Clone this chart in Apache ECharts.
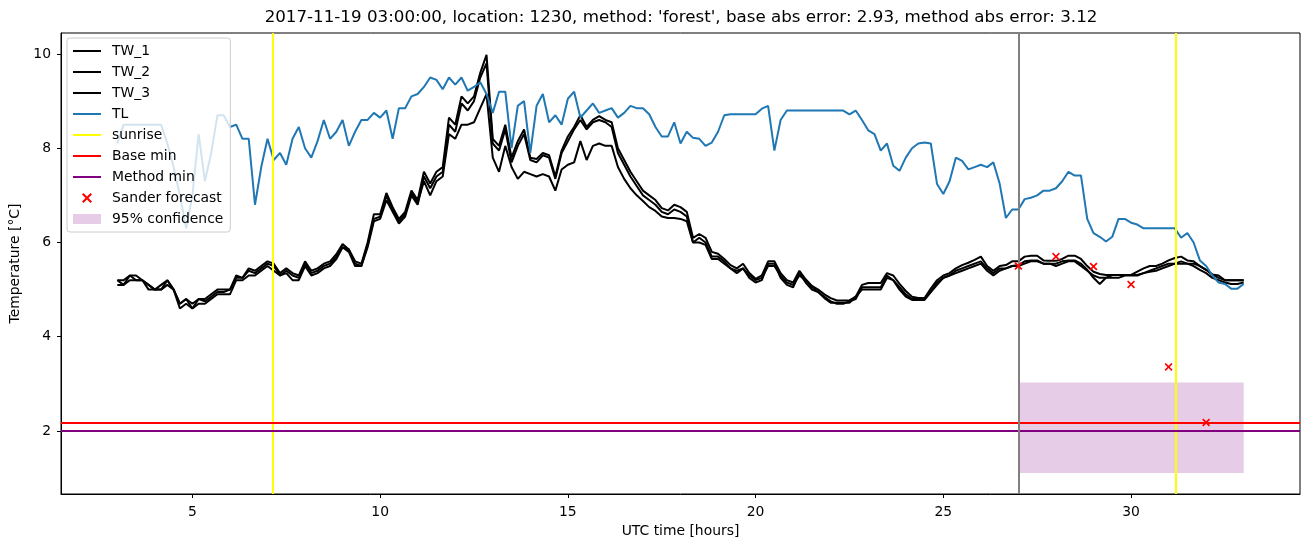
<!DOCTYPE html>
<html>
<head>
<meta charset="utf-8">
<script src="https://cdn.jsdelivr.net/npm/echarts@6/dist/echarts.min.js"></script>
<style>html,body{margin:0;padding:0;background:#fff}#c{width:1310px;height:547px}</style>
</head>
<body>
<div id="c"></div>
<script>
// ---- data (10-minute samples from 03:00 to 33:00 UTC hours) ----
const START_HOUR = 3;
const STEP_HOUR = 1 / 6;
const TL = [
8.1, 8.5, 8.5, 8.5, 8.5, 8.5, 8.5, 8.5, 8.1, 7.6,
7.0, 6.3, 7.0, 8.3, 7.3, 7.9, 8.7, 8.7, 8.45, 8.5,
8.2, 8.2, 6.8, 7.6, 8.2, 7.75, 7.9, 7.65, 8.2, 8.45,
8.0, 7.8, 8.15, 8.6, 8.2, 8.35, 8.6, 8.05, 8.35, 8.6,
8.6, 8.75, 8.65, 8.8, 8.2, 8.85, 8.85, 9.1, 9.15, 9.3,
9.5, 9.45, 9.25, 9.5, 9.35, 9.5, 9.22, 9.3, 9.4, 9.15,
8.75, 9.2, 9.2, 8.0, 8.9, 9.0, 7.9, 8.9, 9.15, 8.55,
8.7, 8.5, 9.05, 9.2, 8.65, 8.8, 8.95, 8.75, 8.8, 8.85,
8.65, 8.75, 8.9, 8.85, 8.85, 8.72, 8.45, 8.25, 8.25, 8.55,
8.1, 8.35, 8.22, 8.2, 8.05, 8.12, 8.35, 8.7, 8.72, 8.72,
8.72, 8.72, 8.72, 8.84, 8.9, 7.95, 8.6, 8.8, 8.8, 8.8,
8.8, 8.8, 8.8, 8.8, 8.8, 8.8, 8.8, 8.72, 8.8, 8.6,
8.38, 8.3, 7.95, 8.1, 7.63, 7.52, 7.8, 8.0, 8.1, 8.12,
8.1, 7.24, 7.03, 7.3, 7.8, 7.73, 7.55, 7.6, 7.65, 7.6,
7.7, 7.25, 6.52, 6.7, 6.7, 6.92, 6.95, 7.0, 7.1, 7.1,
7.15, 7.3, 7.5, 7.42, 7.42, 6.5, 6.2, 6.12, 6.02, 6.12,
6.5, 6.5, 6.42, 6.38, 6.3, 6.3, 6.3, 6.3, 6.3, 6.3,
6.1, 6.2, 6.0, 5.62, 5.5, 5.3, 5.15, 5.12, 5.02, 5.02,
5.12
];
const TW_1 = [
5.2, 5.2, 5.3, 5.3, 5.2, 5.1, 5.0, 5.1, 5.2, 5.0,
4.7, 4.8, 4.7, 4.8, 4.8, 4.9, 5.0, 5.0, 5.0, 5.3,
5.25, 5.45, 5.4, 5.5, 5.6, 5.55, 5.35, 5.45, 5.35, 5.3,
5.6, 5.4, 5.45, 5.55, 5.6, 5.75, 5.97, 5.85, 5.6, 5.55,
6.0, 6.6, 6.6, 7.05, 6.75, 6.5, 6.65, 7.1, 6.9, 7.5,
7.25, 7.5, 7.6, 8.65, 8.5, 9.1, 8.95, 9.1, 9.6, 9.98,
8.2, 8.05, 8.5, 7.8, 8.15, 8.4, 7.8, 7.77, 7.9, 7.85,
7.4, 7.95, 8.25, 8.45, 8.7, 8.45, 8.6, 8.68, 8.6, 8.55,
8.0, 7.75, 7.5, 7.3, 7.1, 7.0, 6.9, 6.73, 6.68, 6.8,
6.75, 6.65, 6.1, 6.18, 6.1, 5.8, 5.76, 5.65, 5.52, 5.45,
5.55, 5.35, 5.23, 5.3, 5.6, 5.6, 5.35, 5.2, 5.15, 5.4,
5.22, 5.08, 5.0, 4.9, 4.82, 4.77, 4.77, 4.77, 4.85, 5.1,
5.14, 5.14, 5.14, 5.35, 5.3, 5.12, 4.97, 4.85, 4.82, 4.82,
5.02, 5.2, 5.3, 5.35, 5.45, 5.52, 5.57, 5.63, 5.7, 5.5,
5.4, 5.5, 5.52, 5.6, 5.6, 5.7, 5.72, 5.72, 5.62, 5.61,
5.61, 5.65, 5.72, 5.72, 5.65, 5.5, 5.38, 5.33, 5.31, 5.31,
5.31, 5.31, 5.31, 5.38, 5.45, 5.5, 5.5, 5.55, 5.62, 5.67,
5.7, 5.62, 5.6, 5.5, 5.42, 5.32, 5.3, 5.2, 5.2, 5.2,
5.2
];
const TW_2 = [
5.1, 5.1, 5.2, 5.2, 5.2, 5.0, 5.0, 5.0, 5.1, 5.0,
4.6, 4.7, 4.6, 4.7, 4.7, 4.8, 4.9, 4.9, 4.9, 5.2,
5.2, 5.3, 5.3, 5.4, 5.5, 5.4, 5.3, 5.35, 5.2, 5.2,
5.5, 5.3, 5.35, 5.45, 5.5, 5.65, 5.9, 5.8, 5.5, 5.5,
5.9, 6.45, 6.5, 6.9, 6.65, 6.4, 6.55, 7.0, 6.8, 7.4,
7.15, 7.4, 7.5, 8.5, 8.35, 8.95, 8.8, 9.0, 9.5, 9.8,
8.1, 7.95, 8.4, 7.7, 8.05, 8.3, 7.75, 7.7, 7.85, 7.8,
7.35, 7.9, 8.15, 8.4, 8.6, 8.4, 8.55, 8.6, 8.55, 8.45,
7.9, 7.65, 7.4, 7.2, 7.0, 6.9, 6.8, 6.65, 6.6, 6.7,
6.65, 6.55, 6.0, 6.1, 6.0, 5.7, 5.7, 5.6, 5.45, 5.4,
5.45, 5.3, 5.2, 5.25, 5.5, 5.5, 5.3, 5.15, 5.1, 5.3,
5.2, 5.05, 4.95, 4.85, 4.75, 4.7, 4.7, 4.75, 4.8, 5.05,
5.05, 5.05, 5.05, 5.3, 5.2, 5.05, 4.9, 4.8, 4.8, 4.8,
4.95, 5.15, 5.25, 5.3, 5.4, 5.45, 5.5, 5.55, 5.6, 5.45,
5.35, 5.45, 5.45, 5.5, 5.52, 5.6, 5.62, 5.62, 5.55, 5.55,
5.55, 5.6, 5.62, 5.62, 5.55, 5.42, 5.25, 5.12, 5.25, 5.31,
5.31, 5.31, 5.31, 5.31, 5.35, 5.38, 5.4, 5.45, 5.5, 5.55,
5.6, 5.55, 5.5, 5.42, 5.35, 5.25, 5.2, 5.15, 5.12, 5.12,
5.15
];
const TW_3 = [
5.2, 5.1, 5.3, 5.2, 5.2, 5.1, 5.0, 5.0, 5.2, 5.0,
4.7, 4.8, 4.6, 4.8, 4.75, 4.85, 4.95, 4.95, 5.0, 5.25,
5.25, 5.4, 5.35, 5.45, 5.55, 5.5, 5.3, 5.4, 5.3, 5.25,
5.55, 5.35, 5.4, 5.5, 5.55, 5.7, 5.9, 5.85, 5.55, 5.5,
5.95, 6.5, 6.55, 7.0, 6.7, 6.45, 6.6, 7.05, 6.85, 7.3,
7.0, 7.3, 7.4, 8.3, 8.2, 8.5, 8.5, 8.55, 8.85, 9.15,
7.8, 7.5, 8.05, 7.6, 7.35, 7.5, 7.45, 7.4, 7.45, 7.4,
7.1, 7.55, 7.65, 7.7, 8.15, 7.75, 8.05, 8.1, 8.05, 8.05,
7.6, 7.35, 7.15, 7.0, 6.88, 6.75, 6.67, 6.55, 6.52, 6.52,
6.5, 6.45, 6.0, 6.0, 5.95, 5.65, 5.65, 5.55, 5.45, 5.35,
5.45, 5.25, 5.15, 5.2, 5.55, 5.55, 5.25, 5.1, 5.05, 5.35,
5.15, 5.0, 4.95, 4.82, 4.72, 4.72, 4.72, 4.72, 4.85, 5.0,
5.0, 5.0, 5.0, 5.25, 5.2, 5.0, 4.85, 4.78, 4.78, 4.78,
4.95, 5.1, 5.25, 5.3, 5.35, 5.4, 5.45, 5.5, 5.55, 5.4,
5.3, 5.4, 5.45, 5.5, 5.5, 5.55, 5.6, 5.6, 5.55, 5.55,
5.5, 5.55, 5.6, 5.6, 5.5, 5.4, 5.3, 5.25, 5.25, 5.25,
5.25, 5.3, 5.3, 5.3, 5.35, 5.4, 5.45, 5.5, 5.55, 5.55,
5.55, 5.55, 5.55, 5.5, 5.42, 5.32, 5.25, 5.2, 5.2, 5.2,
5.2
];
const SANDER_HOURS = [27, 28, 29, 30, 31, 32];
const SANDER_VALUES = [5.50, 5.70, 5.49, 5.11, 3.36, 2.18];
const SUNRISE_HOURS = [7.15, 31.18];
const NOW_HOUR = [27];
const BASE_MIN = [2.18];
const METHOD_MIN = [2.0];
const CONF_HOURS = [27, 33];
const CONF_RANGE = [1.108, 3.03];
const X_TICKS = [5, 10, 15, 20, 25, 30];
const Y_TICKS = [2, 4, 6, 8, 10];
const TITLE = "2017-11-19 03:00:00, location: 1230, method: 'forest', base abs error: 2.93, method abs error: 3.12";

const toPairs = arr => arr.map((v, i) => [START_HOUR + i * STEP_HOUR, v]);
const FONT = 'DejaVu Sans';
const LINE_ICON = 'path://M0,0H28V2H0Z';
const X_ICON = 'path://M0,1.5L1.5,0L5,3.5L8.5,0L10,1.5L6.5,5L10,8.5L8.5,10L5,6.5L1.5,10L0,8.5L3.5,5Z';

const chart = echarts.init(document.getElementById('c'), null, {renderer: 'canvas'});

function lineSeries(name, data, color) {
  return {
    name, type: 'line', data: toPairs(data), symbol: 'none', showSymbol: false,
    lineStyle: {color, width: 2}, itemStyle: {color}, silent: true,
    emphasis: {disabled: true}, z: 3
  };
}
function markLineSeries(name, color, lines, z) {
  return {
    name, type: 'line', data: [], symbol: 'none',
    lineStyle: {color, width: 2}, itemStyle: {color}, z: z || 4,
    markLine: {
      silent: true, symbol: ['none', 'none'], animation: false,
      label: {show: false}, emphasis: {disabled: true},
      lineStyle: {color, width: 2, type: 'solid'},
      data: lines
    }
  };
}

const option = {
  animation: false,
  backgroundColor: '#fff',
  textStyle: {fontFamily: FONT},
  grid: {left: 61, right: 10, top: 33, bottom: 53, show: true, borderColor: '#000', borderWidth: 1, containLabel: false},
  graphic: [{
    type: 'text', x: 681, y: 18, silent: true,
    style: {text: TITLE, fontFamily: FONT, fontSize: 16.7, fill: '#000', textAlign: 'center', textVerticalAlign: 'middle'}
  }],
  xAxis: {
    type: 'value', min: 1.5, max: 34.5,
    name: 'UTC time [hours]', nameLocation: 'middle', nameGap: 29,
    nameTextStyle: {fontFamily: FONT, fontSize: 13.9, color: '#000'},
    axisLine: {show: true, onZero: false, lineStyle: {color: '#000', width: 1}},
    axisTick: {show: true, inside: false, length: 4, lineStyle: {color: '#000'}, customValues: X_TICKS},
    axisLabel: {show: true, margin: 11, fontFamily: FONT, fontSize: 13.9, color: '#000', customValues: X_TICKS},
    splitLine: {show: false}
  },
  yAxis: {
    type: 'value', min: 0.663, max: 10.445,
    name: 'Temperature [°C]', nameLocation: 'middle', nameGap: 37, nameRotate: 90,
    nameTextStyle: {fontFamily: FONT, fontSize: 13.9, color: '#000'},
    axisLine: {show: true, onZero: false, lineStyle: {color: '#000', width: 1}},
    axisTick: {show: true, inside: false, length: 4, lineStyle: {color: '#000'}, customValues: Y_TICKS},
    axisLabel: {show: true, margin: 10, fontFamily: FONT, fontSize: 13.9, color: '#000', customValues: Y_TICKS},
    splitLine: {show: false}
  },
  legend: {
    left: 67, top: 38, orient: 'vertical',
    itemWidth: 28, itemHeight: 10, itemGap: 7,
    backgroundColor: 'rgba(255,255,255,0.8)', borderColor: '#cccccc', borderWidth: 1, borderRadius: 3,
    padding: [6, 7, 6, 6],
    itemStyle: {borderWidth: 0, opacity: 1},
    textStyle: {fontFamily: FONT, fontSize: 13.9, color: '#000', padding: [0, 0, 0, 6]},
    selectedMode: false,
    data: [
      {name: 'TW_1', icon: LINE_ICON, itemStyle: {color: '#000'}},
      {name: 'TW_2', icon: LINE_ICON, itemStyle: {color: '#000'}},
      {name: 'TW_3', icon: LINE_ICON, itemStyle: {color: '#000'}},
      {name: 'TL', icon: LINE_ICON, itemStyle: {color: '#1f77b4'}},
      {name: 'sunrise', icon: LINE_ICON, itemStyle: {color: '#ffff00'}},
      {name: 'Base min', icon: LINE_ICON, itemStyle: {color: '#ff0000'}},
      {name: 'Method min', icon: LINE_ICON, itemStyle: {color: '#800080'}},
      {name: 'Sander forecast', icon: X_ICON, itemStyle: {color: '#ff0000', opacity: 1}},
      {name: '95% confidence', icon: 'rect', itemStyle: {color: 'rgba(128,0,128,0.2)'}}
    ],
    z: 10
  },
  series: [
    {
      name: '95% confidence', type: 'line', data: [], symbol: 'none', z: 1,
      itemStyle: {color: 'rgba(128,0,128,0.2)'},
      markArea: {
        silent: true, animation: false,
        itemStyle: {color: 'rgba(128,0,128,0.2)'},
        label: {show: false},
        data: [[{coord: [CONF_HOURS[0], CONF_RANGE[0]]}, {coord: [CONF_HOURS[1], CONF_RANGE[1]]}]]
      }
    },
    lineSeries('TW_1', TW_1, '#000000'),
    lineSeries('TW_2', TW_2, '#000000'),
    lineSeries('TW_3', TW_3, '#000000'),
    lineSeries('TL', TL, '#1f77b4'),
    markLineSeries('sunrise', '#ffff00', SUNRISE_HOURS.map(h => ({xAxis: h}))),
    markLineSeries('Base min', '#ff0000', BASE_MIN.map(v => ({yAxis: v}))),
    markLineSeries('Method min', '#800080', METHOD_MIN.map(v => ({yAxis: v}))),
    markLineSeries('now', '#808080', NOW_HOUR.map(h => ({xAxis: h}))),
    {
      name: 'Sander forecast', type: 'scatter', symbol: X_ICON, symbolSize: 8,
      itemStyle: {color: '#ff0000', opacity: 1}, silent: true, z: 6,
      data: SANDER_HOURS.map((h, i) => [h, SANDER_VALUES[i]])
    }
  ]
};
chart.setOption(option);
</script>
</body>
</html>
